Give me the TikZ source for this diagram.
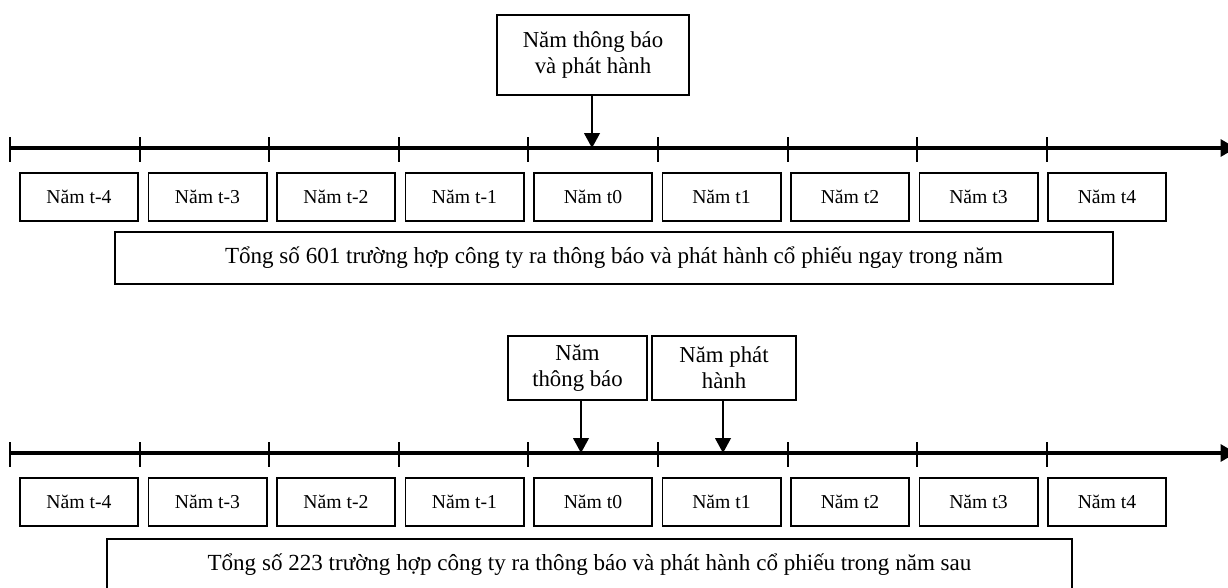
\documentclass[tikz,border=0pt]{standalone}
\usepackage{fontspec}
\setmainfont{Liberation Serif}
\usetikzlibrary{arrows.meta}
\tikzset{
  axis/.style={line width=2.6pt, -{Triangle[length=11pt,width=12pt]}},
  tickline/.style={line width=1.4pt},
  yearbox/.style={draw, line width=1.4pt, minimum width=2.95cm, minimum height=1.2cm, font=\fontsize{14}{16}\selectfont},
  infobox/.style={draw, line width=1.4pt, align=center, font=\fontsize{16.2}{18.5}\selectfont},
  sumbox/.style={draw, line width=1.4pt, font=\fontsize{16.4}{18.5}\selectfont},
  pointer/.style={line width=1.4pt, -{Triangle[length=10.5pt,width=11pt]}}
}
\begin{document}
\begin{tikzpicture}[x=0.025cm,y=-0.025cm]
  \useasboundingbox (0,0) rectangle (1228,587);
  % upper timeline
  \coordinate (a1s) at (10,148);
  \coordinate (a1e) at (1236,148);
  \draw[axis] (a1s) -- (a1e);
  \foreach \i in {0,...,8}
    \draw[tickline] (10+129.6*\i,137) -- (10+129.6*\i,162);
  \foreach \lab [count=\i from 0] in {t-4,t-3,t-2,t-1,t0,t1,t2,t3,t4}
    \node[yearbox] (ya\i) at (79+128.5*\i,197) {Năm \lab};
  \node[infobox, minimum width=4.8cm, minimum height=2cm] (both) at (593,55) {Năm thông báo\\và phát hành};
  \coordinate (p1) at (592,148);
  \draw[pointer] (both.south -| p1) -- (p1);
  \node[sumbox, minimum width=24.95cm, minimum height=1.3cm] (sum1) at (614,258) {Tổng số 601 trường hợp công ty ra thông báo và phát hành cổ phiếu ngay trong năm};
  % lower timeline
  \coordinate (a2s) at (10,453);
  \coordinate (a2e) at (1236,453);
  \draw[axis] (a2s) -- (a2e);
  \foreach \i in {0,...,8}
    \draw[tickline] (10+129.6*\i,442) -- (10+129.6*\i,467);
  \foreach \lab [count=\i from 0] in {t-4,t-3,t-2,t-1,t0,t1,t2,t3,t4}
    \node[yearbox] (yb\i) at (79+128.5*\i,502) {Năm \lab};
  \node[infobox, minimum width=3.475cm, minimum height=1.6cm] (ann) at (577.5,368) {Năm\\thông báo};
  \node[infobox, minimum width=3.6cm, minimum height=1.6cm] (iss) at (724,368) {Năm phát\\hành};
  \coordinate (p2) at (581,453);
  \coordinate (p3) at (723,453);
  \draw[pointer] (ann.south -| p2) -- (p2);
  \draw[pointer] (iss.south -| p3) -- (p3);
  \node[sumbox, minimum width=24.125cm, minimum height=1.3cm] (sum2) at (589.5,565) {Tổng số 223 trường hợp công ty ra thông báo và phát hành cổ phiếu trong năm sau};
\end{tikzpicture}
\end{document}
